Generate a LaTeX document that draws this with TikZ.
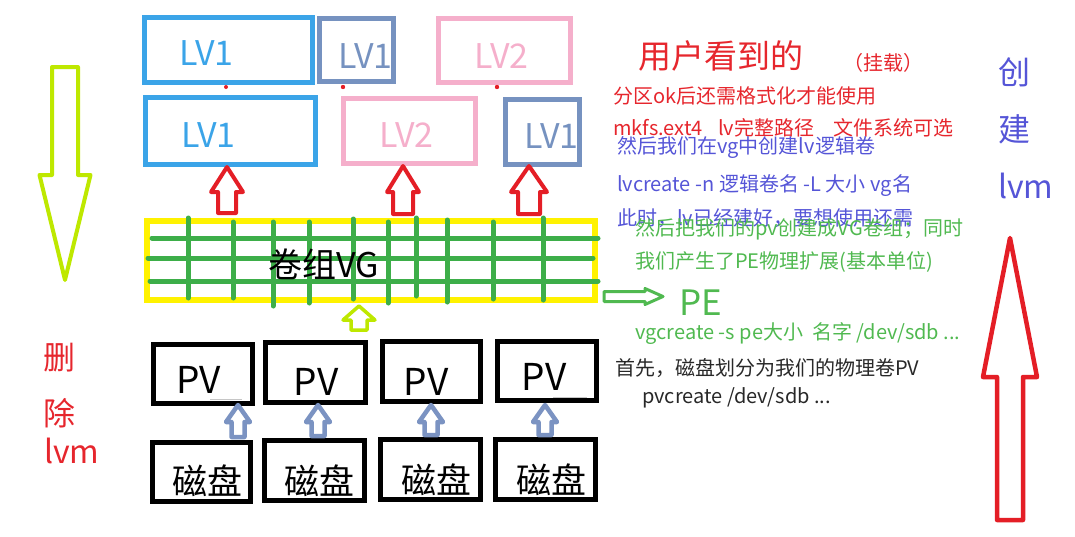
\documentclass[tikz,border=0pt]{standalone}
\usepackage{fontspec}
\setmainfont{Noto Sans CJK SC}
\definecolor{lvblue}{RGB}{59,164,232}
\definecolor{lvgray}{RGB}{118,146,192}
\definecolor{lvpink}{RGB}{245,175,203}
\definecolor{txtred}{RGB}{230,38,45}
\definecolor{txtpur}{RGB}{85,85,215}
\definecolor{txtgreen}{RGB}{80,185,80}
\definecolor{gridgreen}{RGB}{61,174,73}
\definecolor{vgyellow}{RGB}{255,242,0}
\definecolor{lime}{RGB}{190,232,0}
\definecolor{arrred}{RGB}{228,30,38}
\definecolor{arrgray}{RGB}{123,147,194}
\definecolor{dark}{RGB}{40,40,40}
\newcommand\fsz[1]{\fontsize{#1}{#1}\selectfont}
% block arrow: color, line width, tip x, tip y, head half width, head base y, shaft half width, end y
\newcommand\blockarrow[8]{%
  \draw[#1, line width=#2, line join=round, fill=white]
    ({#3},{#4}) -- ({#3+#5},{#6}) -- ({#3+#7},{#6}) -- ({#3+#7},{#8})
    -- ({#3-#7},{#8}) -- ({#3-#7},{#6}) -- ({#3-#5},{#6}) -- cycle;}
\begin{document}
\begin{tikzpicture}[x=1pt,y=-1pt,
  lvbox/.style={draw, line width=5pt, inner sep=0pt},
  blkbox/.style={draw=black, line width=5pt, inner sep=0pt, minimum width=99pt, minimum height=59pt},
  lvtext/.style={font=\fsz{34}, anchor=base, inner sep=0pt},
  note/.style={anchor=west, inner sep=0pt, font=\fsz{20}},
  grid/.style={gridgreen, line width=5pt, line cap=round}]
\useasboundingbox (0,0) rectangle (1075,536);

% ---------- LV texts (drawn first, boxes overlay) ----------
\node[lvtext, text=lvblue] (tA) at (206.5,65) {LV1};
\node[lvtext, text=lvgray] (tB) at (365.5,68) {LV1};
\node[lvtext, text=lvpink] (tC) at (501.5,68) {LV2};
\node[lvtext, text=lvblue] (tD) at (208.5,147) {LV1};
\node[lvtext, text=lvpink] (tE) at (406.5,147) {LV2};
\node[lvtext, text=lvgray] (tF) at (551.5,148) {LV1};

% ---------- LV boxes ----------
\node[lvbox, draw=lvblue, minimum width=168pt, minimum height=65pt] (lvA) at (228.5,50) {};
\node[lvbox, draw=lvgray, minimum width=74pt, minimum height=63pt] (lvB) at (356.5,50) {};
\node[lvbox, draw=lvpink, minimum width=132pt, minimum height=64pt] (lvC) at (504.5,50.5) {};
\node[lvbox, draw=lvblue, minimum width=170pt, minimum height=67pt] (lvD) at (230.5,131) {};
\node[lvbox, draw=lvpink, minimum width=132pt, minimum height=65pt] (lvE) at (409.5,131) {};
\node[lvbox, draw=lvgray, minimum width=74pt, minimum height=65pt] (lvF) at (542.5,132) {};

% small red marks under the upper row
\fill[arrred] (226,87) circle (2pt);
\fill[arrred] (343,87) circle (2.2pt);
\fill[arrred] (497,87) circle (2.2pt);

% ---------- red up arrows LV <- VG ----------
\blockarrow{arrred}{4pt}{227}{167}{16}{192}{9}{213}
\blockarrow{arrred}{4pt}{403}{166}{16}{192}{10}{214}
\blockarrow{arrred}{4pt}{529}{166}{18}{192}{11}{214}

% ---------- VG ----------
\node[draw=vgyellow, line width=6pt, inner sep=0pt, minimum width=448pt, minimum height=79pt] (vg) at (371,260.5) {};
\draw[grid] (152,238) -- (598,238);
\draw[grid] (148,258) -- (593,258);
\draw[grid] (150,281) -- (598,281);
\draw[grid] (188,218) -- (188,298);
\draw[grid] (233,222) -- (233,298);
\draw[grid] (273,222) -- (273,306);
\draw[grid] (309,222) -- (309,303);
\draw[grid] (353,219) -- (353,299);
\draw[grid] (388,222) -- (388,303);
\draw[grid] (416,218) -- (416,296);
\draw[grid] (447,220) -- (447,302);
\draw[grid] (493,222) -- (493,299);
\draw[grid] (543,218) -- (543,300);
\node[font=\fsz{34}, inner sep=0pt] (vgt) at (323.5,264) {卷组VG};

% lime arrow PV -> VG
\blockarrow{lime}{3.5pt}{359}{306}{16}{320}{8}{330}

% ---------- PV boxes ----------
\node[font=\fsz{37}, anchor=base, inner sep=0pt] (p1t) at (198.5,393) {PV};
\node[font=\fsz{37}, anchor=base, inner sep=0pt] (p2t) at (316,395) {PV};
\node[font=\fsz{37}, anchor=base, inner sep=0pt] (p3t) at (426,395) {PV};
\node[font=\fsz{37}, anchor=base, inner sep=0pt] (p4t) at (544,390) {PV};
\node[blkbox] (pv1) at (203,374) {};
\node[blkbox, minimum width=100pt, minimum height=60pt] (pv2) at (315.5,372.5) {};
\node[blkbox, minimum width=98pt, minimum height=60pt] (pv3) at (431.5,371.5) {};
\node[blkbox] (pv4) at (547,371) {};
\draw[gray!45, line width=1pt] (210,399) -- (242,399);
\draw[gray!45, line width=1pt] (553,397) -- (587,397);

% ---------- disk boxes ----------
\node[font=\fsz{35}, inner sep=0pt] (d1t) at (207.5,481) {磁盘};
\node[font=\fsz{35}, inner sep=0pt] (d2t) at (319,481) {磁盘};
\node[font=\fsz{35}, inner sep=0pt] (d3t) at (436.5,480) {磁盘};
\node[font=\fsz{35}, inner sep=0pt] (d4t) at (551,480) {磁盘};
\node[blkbox, minimum width=98pt] (d1) at (201.5,472) {};
\node[blkbox, minimum width=100pt, minimum height=60pt] (d2) at (314.5,470.5) {};
\node[blkbox, minimum width=100pt, minimum height=60pt] (d3) at (430.5,469.5) {};
\node[blkbox, minimum width=100pt, minimum height=60pt] (d4) at (545.5,469.5) {};

% gray arrows disk -> PV
\blockarrow{arrgray}{4.5pt}{238}{405}{12}{422}{6.5}{437}
\blockarrow{arrgray}{4.5pt}{318}{405}{12}{422}{6.5}{436}
\blockarrow{arrgray}{4.5pt}{431}{405}{12}{422}{6.5}{435}
\blockarrow{arrgray}{4.5pt}{545}{405}{12}{422}{6.5}{435}

% ---------- green arrow to PE ----------
\draw[txtgreen, line width=3pt, line join=round, fill=white]
  (663,296.5) -- (645,288.5) -- (645,291.5) -- (604,291.5) -- (604,301.5) -- (645,301.5) -- (645,304.5) -- cycle;
\node[font=\fsz{35}, anchor=base west, inner sep=0pt, text=txtgreen] (pe) at (679,315) {PE};

% ---------- right-hand notes ----------
\node[anchor=west, inner sep=0pt, font=\fsz{33}, text=txtred] (n1) at (638,56) {用户看到的};
\node[anchor=west, inner sep=0pt, font=\fsz{20}, text=txtred] (n2) at (843,63) {（挂载）};
\node[note, text=txtred] (n3) at (613,96) {分区ok后还需格式化才能使用};
\node[note, text=txtred] (n4a) at (613,128) {mkfs.ext4};
\node[note, text=txtred] (n4b) at (718,128) {lv完整路径};
\node[note, text=txtred] (n4c) at (833,128) {文件系统可选};
\node[note, text=txtpur] (n5) at (617,148) {然后我们在vg中创建lv逻辑卷};
\node[note, text=txtpur] (n6) at (617,186) {lvcreate -n 逻辑卷名 -L 大小 vg名};
\node[note, text=txtpur] (n7) at (617,218) {此时，lv已经建好，要想使用还需};
\node[note, text=txtgreen] (n8) at (635,229) {然后把我们的pv创建成VG卷组；同时};
\node[note, text=txtgreen] (n9) at (635,262) {我们产生了PE物理扩展(基本单位)};
\node[note, text=txtgreen] (n10) at (635,334) {vgcreate -s pe大小\ \ 名字 /dev/sdb ...};
\node[note, text=dark] (n11) at (615,368) {首先，磁盘划分为我们的物理卷PV};
\node[note, text=dark] (n12) at (642,398) {pvcreate /dev/sdb ...};

% ---------- left: delete ----------
\blockarrow{lime}{4pt}{65}{280}{25.5}{175}{13}{67}
\node[anchor=west, inner sep=0pt, font=\fsz{32}, text=txtred] (del1) at (43,358) {删};
\node[anchor=west, inner sep=0pt, font=\fsz{32}, text=txtred] (del2) at (43,413) {除};
\node[anchor=base west, inner sep=0pt, font=\fsz{32}, text=txtred] (del3) at (44,463) {lvm};

% ---------- right: create ----------
\blockarrow{arrred}{4.5pt}{1010}{238}{27}{377}{13}{520}
\node[anchor=west, inner sep=0pt, font=\fsz{32}, text=txtpur] (cr1) at (998,72) {创};
\node[anchor=west, inner sep=0pt, font=\fsz{32}, text=txtpur] (cr2) at (998,129) {建};
\node[anchor=base west, inner sep=0pt, font=\fsz{32}, text=txtpur] (cr3) at (998,198) {lvm};
\end{tikzpicture}
\end{document}
